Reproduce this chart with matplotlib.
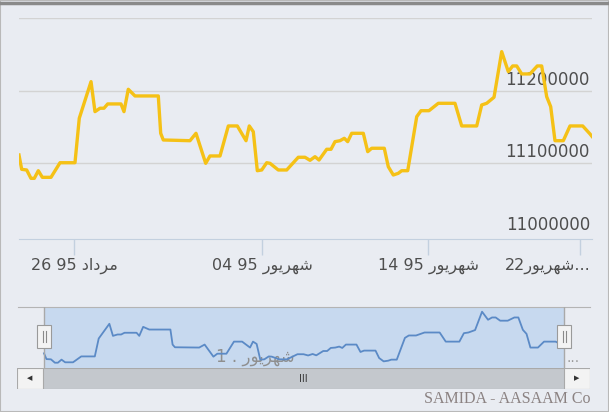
import matplotlib
matplotlib.use('Agg')
import matplotlib.pyplot as plt
from matplotlib.patches import Rectangle
from matplotlib.lines import Line2D

# price series, t is a trading-time index (0..100) over the visible range
t = [0, 0.47, 1.34, 2.09, 2.67, 3.37, 4.07, 5.58, 7.16, 9.77,
     10.52, 12.57, 13.26, 14.14, 14.83, 15.48, 17.80, 18.32, 19.07, 20.24,
     24.31, 24.73, 25.18, 29.84, 30.89, 32.58, 33.33, 35.08, 36.53, 38.10,
     39.62, 40.19, 40.89, 41.59, 42.36, 43.23, 43.80, 45.25, 46.72, 48.74,
     49.91, 50.79, 51.66, 52.36, 53.70, 54.45, 55.15, 56.02, 56.77, 57.36,
     58.06, 60.09, 60.86, 61.55, 63.75, 64.45, 65.32, 66.19, 66.79, 67.84,
     69.41, 70.16, 71.55, 73.18, 76.09, 77.26, 79.88, 80.75, 81.62, 82.90,
     84.24, 85.39, 86.16, 86.86, 87.73, 89.18, 90.45, 91.22, 92.09, 92.79,
     93.54, 94.99, 96.16, 98.38, 99.65, 100]
price = [11111400, 11091700, 11090800, 11079300, 11079300, 11089800, 11080700, 11080700, 11100800, 11100800,
         11162000, 11212400, 11171100, 11175800, 11175800, 11181700, 11181700, 11171100, 11201900, 11192700,
         11192700, 11141300, 11132100, 11131100, 11141300, 11100000, 11110100, 11110100, 11151400, 11151400,
         11131100, 11151400, 11143500, 11089800, 11090800, 11100800, 11100000, 11090800, 11090800, 11108300,
         11108300, 11104100, 11109100, 11104500, 11119300, 11119300, 11129800, 11131100, 11134400, 11129800,
         11141300, 11141300, 11116000, 11120700, 11120700, 11095300, 11083900, 11086200, 11089800, 11089800,
         11164200, 11172400, 11172400, 11182600, 11182600, 11151400, 11151400, 11180300, 11182600, 11190900,
         11253700, 11226200, 11234000, 11234000, 11223000, 11223000, 11234000, 11234000, 11191700, 11178000,
         11131100, 11131100, 11151400, 11151400, 11140400, 11137000]

ygrid = [11100000, 11200000, 11300000]
ylabels = [11000000, 11100000, 11200000]

# persian month names in visual (presentation form) order
mordad = '\ufea9\ufe8d\ufea9\ufeae\ufee3'
shahrivar = '\ufead\ufeee\ufef3\ufeae\ufeec\ufeb7'
xtick_pos = [9.6, 42.41, 71.38, 97.9]
xtick_labels = ['26 95 ' + mordad, '04 95 ' + shahrivar, '14 95 ' + shahrivar, '22' + shahrivar + '...']
nav_label = '1 . ' + shahrivar
nav_label_pos = 40.6
credit = 'SAMIDA - AASAAM Co'

W, H = 609, 412
bg = '#e9ecf2'
fig = plt.figure(figsize=(W / 100, H / 100), dpi=100, facecolor=bg)


def box(x0, y0, x1, y1):
    return [x0 / W, 1 - y1 / H, (x1 - x0) / W, (y1 - y0) / H]


# main chart
ax = fig.add_axes(box(19, 18, 592, 239))
ax.patch.set_alpha(0)
ax.plot(t, price, color='#f5c116', lw=2.4, solid_joinstyle='round', zorder=3)
ax.set_xlim(0, 100)
ax.set_ylim(10995800, 11300000)
for v in ygrid:
    ax.axhline(v, color='#d3d3d3', lw=1, zorder=1)
for v in ylabels:
    ax.annotate(str(v), xy=(1, v), xycoords=('axes fraction', 'data'), xytext=(-1.5, 1.5),
                textcoords='offset points', ha='right', va='bottom', fontsize=12, color='#4e4e4e', zorder=2)
for s in ['top', 'left', 'right']:
    ax.spines[s].set_visible(False)
ax.spines['bottom'].set_color('#c3d0df')
ax.set_yticks([])
ax.set_xticks(xtick_pos, xtick_labels[:3] + [''])
ax.tick_params(axis='x', length=11.5, width=1, color='#c3d0df', pad=2, labelsize=11.5, labelcolor='#4e4e4e')
ax.annotate(xtick_labels[3], xy=(xtick_pos[3], 0), xycoords=('data', 'axes fraction'), xytext=(7.5, -13.5),
            textcoords='offset points', ha='right', va='top', fontsize=11.5, color='#4e4e4e')

# navigator
nav = fig.add_axes(box(18, 307, 590, 368))
nav.patch.set_alpha(0)
nx0, nx1 = -5.0, 105.0
nav.set_xlim(nx0, nx1)
nav.set_ylim(11061200, 11269800)
nav.axvspan(t[0], t[-1], color='#c7d9ef', lw=0, zorder=0)
nav.plot(t, price, color='#5b8ac6', lw=1.3, zorder=3)
nav.text(nav_label_pos, 0.18, nav_label, transform=nav.get_xaxis_transform(), ha='center', va='center',
         fontsize=12, color='#8f8f8f', zorder=2)
nav.text(0.971, 0.16, '...', transform=nav.transAxes, ha='center', va='center', fontsize=10, color='#9a9a9a')
for s in ['left', 'right', 'bottom']:
    nav.spines[s].set_visible(False)
nav.spines['top'].set_color('#b4b4b4')
nav.set_xticks([])
nav.set_yticks([])
for tx in (t[0], t[-1]):
    nav.axvline(tx, color='#a9a9a9', lw=1, zorder=4)
    xa = (tx - nx0) / (nx1 - nx0)
    nav.add_patch(Rectangle((xa - 7 / 572, 0.327), 14 / 572, 0.377, transform=nav.transAxes,
                            fc='#f3f3f3', ec='#9a9a9a', lw=0.8, zorder=5))
    for dx in (-1.5, 1.5):
        nav.add_line(Line2D([xa + dx / 572] * 2, [0.43, 0.6], transform=nav.transAxes,
                            color='#8a8a8a', lw=0.8, zorder=6))

# scrollbar
sb = fig.add_axes(box(17, 368, 590, 389))
sb.set_axis_off()
bw = 26 / 573
sb.add_patch(Rectangle((0, 0), 1, 1, transform=sb.transAxes, fc='#c4c8cd', ec='#a9a9a9', lw=0.8))
sb.add_patch(Rectangle((0, 0), bw, 1, transform=sb.transAxes, fc='#f3f3f3', ec='#a9a9a9', lw=0.8))
sb.add_patch(Rectangle((1 - bw, 0), bw, 1, transform=sb.transAxes, fc='#f3f3f3', ec='#a9a9a9', lw=0.8))
sb.text(bw / 2, 0.5, '\u25c0', transform=sb.transAxes, ha='center', va='center', fontsize=5, color='#333333')
sb.text(1 - bw / 2, 0.5, '\u25b6', transform=sb.transAxes, ha='center', va='center', fontsize=5, color='#333333')
sb.text(0.499, 0.5, 'III', transform=sb.transAxes, ha='center', va='center', fontsize=7, color='#333333')

fig.text(590 / W, 1 - 399 / H, credit, ha='right', va='center', family='Liberation Serif',
         fontsize=11.5, color='#8b8282')

# frame
fig.add_artist(Rectangle((0, 0), 1, 1, transform=fig.transFigure, fill=False, ec='#b9b9b9', lw=1.5))
fig.add_artist(Line2D([0, 1], [1 - 3 / H] * 2, transform=fig.transFigure, color='#8a8a8a', lw=2.5))

fig.savefig('out.png', dpi=100, facecolor=bg)
